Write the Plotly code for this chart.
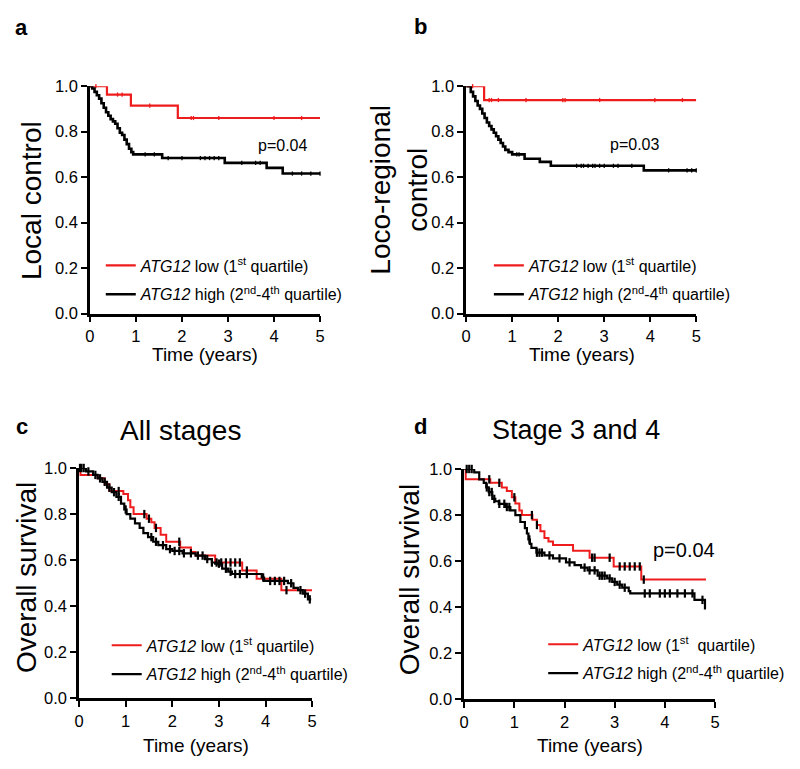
import numpy as np
import plotly.graph_objects as go

W, H = 800, 769

# ---------------- data (Kaplan-Meier step points, censor times) ----------------
# Panel a : Local control
a_low_t = [0, 0.37, 0.89, 1.91]
a_low_s = [1.0, 0.963, 0.914, 0.86]
a_low_end = 5.0
a_low_cens = [0.13, 0.6, 0.7, 1.3, 2.2, 2.25, 2.8, 4.0, 4.6]
a_high_t = [0, 0.05, 0.1, 0.15, 0.2, 0.25, 0.3, 0.35, 0.4, 0.45, 0.5, 0.55, 0.6, 0.65,
            0.7, 0.75, 0.8, 0.85, 0.9, 0.94, 1.57, 2.93, 3.84, 4.19]
a_high_s = [1.0, 0.99, 0.975, 0.96, 0.945, 0.925, 0.905, 0.885, 0.87, 0.855, 0.845, 0.835,
            0.815, 0.795, 0.785, 0.765, 0.745, 0.725, 0.71, 0.70, 0.684, 0.663, 0.641, 0.616]
a_high_end = 5.0
a_high_cens = [1.2, 1.4, 1.7, 2.0, 2.4, 2.5, 2.6, 2.7, 2.8, 3.3, 3.6, 3.7, 4.4, 4.6, 4.8, 5.0]

# Panel b : Loco-regional control
b_low_t = [0, 0.39]
b_low_s = [1.0, 0.939]
b_low_end = 5.0
b_low_cens = [0.14, 0.5, 0.55, 0.7, 1.3, 2.1, 2.15, 2.9, 4.1, 4.7]
b_high_t = [0, 0.1, 0.15, 0.2, 0.25, 0.3, 0.35, 0.4, 0.45, 0.5, 0.55, 0.6, 0.65, 0.7, 0.75,
            0.8, 0.85, 0.92, 1.0, 1.27, 1.6, 1.84, 3.86]
b_high_s = [1.0, 0.975, 0.955, 0.935, 0.915, 0.9, 0.88, 0.86, 0.84, 0.825, 0.81, 0.795, 0.78,
            0.765, 0.75, 0.735, 0.72, 0.71, 0.70, 0.681, 0.667, 0.65, 0.63]
b_high_end = 5.0
b_high_cens = [1.1, 1.15, 2.4, 2.5, 2.55, 2.65, 2.75, 2.8, 2.9, 3.0, 3.2, 3.3, 3.6, 4.4, 4.8, 4.9, 5.0]

# Panel c : Overall survival, all stages
c_low_t = [0, 0.03, 0.4, 0.55, 0.65, 0.95, 1.05, 1.1, 1.17, 1.45, 1.55, 1.62, 1.75, 1.87,
           2.17, 2.4, 2.5, 2.92, 3.5, 3.81, 4.34]
c_low_s = [1.0, 0.97, 0.955, 0.93, 0.90, 0.887, 0.86, 0.83, 0.80, 0.78, 0.765, 0.74, 0.71,
           0.68, 0.655, 0.635, 0.62, 0.59, 0.555, 0.52, 0.47]
c_low_end = 5.0
c_low_cens = [0.02, 0.85, 1.4, 1.5, 1.65, 2.15, 2.95, 3.05, 3.15, 3.25, 3.35, 3.45, 3.6, 4.45]
c_high_t = [0, 0.15, 0.3, 0.4, 0.5, 0.6, 0.7, 0.8, 0.9, 0.97, 1.02, 1.1, 1.2, 1.3, 1.38, 1.48,
            1.59, 1.7, 1.87, 2.0, 2.22, 2.5, 2.7, 2.85, 2.92, 3.07, 3.2, 3.28, 3.92, 3.97, 4.48,
            4.6, 4.7, 4.8, 4.91]
c_high_s = [1.0, 0.985, 0.97, 0.955, 0.94, 0.915, 0.895, 0.875, 0.845, 0.82, 0.80, 0.78, 0.76,
            0.74, 0.717, 0.70, 0.68, 0.665, 0.648, 0.64, 0.63, 0.62, 0.605, 0.59, 0.585, 0.563,
            0.55, 0.54, 0.525, 0.51, 0.50, 0.48, 0.47, 0.455, 0.43]
c_high_end = 4.98
c_high_cens = [0.05, 0.1, 0.2, 0.35, 0.45, 0.55, 0.65, 0.75, 0.85, 1.0, 1.55, 1.65, 1.8, 1.95,
               2.05, 2.15, 2.25, 2.4, 2.55, 2.65, 2.75, 2.85, 3.0, 3.15, 3.25, 3.35, 3.45, 3.6,
               3.95, 4.1, 4.2, 4.3, 4.4, 4.55, 4.75, 4.85, 4.95]

# Panel d : Overall survival, stage 3 and 4
d_low_t = [0, 0.03, 0.52, 0.75, 0.85, 0.95, 1.02, 1.1, 1.15, 1.36, 1.45, 1.52, 1.6, 1.68,
           1.77, 2.17, 2.5, 2.98, 3.53]
d_low_s = [1.0, 0.955, 0.94, 0.92, 0.905, 0.877, 0.85, 0.82, 0.80, 0.78, 0.757, 0.73, 0.70,
           0.685, 0.67, 0.645, 0.615, 0.577, 0.52]
d_low_end = 4.82
d_low_cens = [0.5, 0.7, 1.0, 1.35, 1.45, 2.55, 2.6, 2.9, 3.1, 3.2, 3.3, 3.4, 3.5, 3.58]
d_high_t = [0, 0.2, 0.3, 0.39, 0.44, 0.49, 0.56, 0.62, 0.69, 0.82, 0.92, 1.02, 1.12, 1.21,
            1.25, 1.28, 1.31, 1.34, 1.44, 1.6, 1.77, 2.03, 2.2, 2.33, 2.46, 2.66, 2.85, 2.95,
            3.05, 3.15, 3.28, 3.31, 4.59, 4.8]
d_high_s = [1.0, 0.985, 0.955, 0.94, 0.92, 0.9, 0.87, 0.86, 0.849, 0.835, 0.82, 0.80, 0.77,
            0.743, 0.72, 0.694, 0.675, 0.658, 0.637, 0.625, 0.612, 0.595, 0.583, 0.572, 0.56,
            0.537, 0.525, 0.51, 0.498, 0.485, 0.47, 0.46, 0.432, 0.395]
d_high_end = 4.82
d_high_cens = [0.05, 0.1, 0.15, 0.45, 0.5, 0.55, 0.6, 0.7, 0.8, 0.85, 0.9, 1.3, 1.45, 1.5,
               1.55, 1.7, 1.9, 2.1, 2.4, 2.5, 2.6, 2.7, 2.75, 2.8, 2.9, 3.0, 3.1, 3.2, 3.6,
               3.7, 3.9, 4.0, 4.1, 4.25, 4.4, 4.55, 4.75]

y_ticks = [0.0, 0.2, 0.4, 0.6, 0.8, 1.0]
x_ticks = [0, 1, 2, 3, 4, 5]

low_label = "<i>ATG12</i> low (1<sup>st</sup> quartile)"
low_label_d = "<i>ATG12</i> low (1<sup>st</sup>\u00a0 quartile)"
high_label = "<i>ATG12</i> high (2<sup>nd</sup>-4<sup>th</sup> quartile)"

RED = "#ee1c1c"
BLACK = "#000000"
FONT = "Arial, Liberation Sans, sans-serif"

# ---------------- layout geometry (pixels) ----------------
def px_x(p):
    return p / W

def px_y(p):
    return 1 - p / H

panels = {
    "a": dict(x0=86, x1=319, y0=79, y1=312),
    "b": dict(x0=467, x1=700, y0=79, y1=312),
    "c": dict(x0=75, x1=311, y0=470, y1=706),
    "d": dict(x0=465, x1=719, y0=471, y1=707),
}

fig = go.Figure()


def step_at(ts, ss, tc):
    idx = np.searchsorted(np.array(ts), np.array(tc), side="right") - 1
    return list(np.array(ss)[idx])


def add_km(k, ts, ss, end, cens, color, mcolor, name, legend, lw, msize, mlw):
    xa = "x" if k == 1 else f"x{k}"
    ya = "y" if k == 1 else f"y{k}"
    fig.add_trace(go.Scatter(
        x=list(ts) + [end], y=list(ss) + [ss[-1]], mode="lines",
        line=dict(color=color, width=lw, shape="hv"), name=name,
        legend=legend, xaxis=xa, yaxis=ya, cliponaxis=False, legendgroup=name + legend))
    fig.add_trace(go.Scatter(
        x=cens, y=step_at(ts, ss, cens), mode="markers",
        marker=dict(symbol="line-ns", size=msize, line=dict(color=mcolor, width=mlw)),
        showlegend=False, xaxis=xa, yaxis=ya, cliponaxis=False, hoverinfo="skip"))


add_km(1, a_low_t, a_low_s, a_low_end, a_low_cens, RED, RED, low_label, "legend", 2.2, 3, 1.3)
add_km(1, a_high_t, a_high_s, a_high_end, a_high_cens, BLACK, BLACK, high_label, "legend", 2.6, 3, 1.3)
add_km(2, b_low_t, b_low_s, b_low_end, b_low_cens, RED, RED, low_label, "legend2", 2.2, 3, 1.3)
add_km(2, b_high_t, b_high_s, b_high_end, b_high_cens, BLACK, BLACK, high_label, "legend2", 2.6, 3, 1.3)
add_km(3, c_low_t, c_low_s, c_low_end, c_low_cens, RED, BLACK, low_label, "legend3", 2.0, 6, 2.2)
add_km(3, c_high_t, c_high_s, c_high_end, c_high_cens, BLACK, BLACK, high_label, "legend3", 2.2, 6, 2.2)
add_km(4, d_low_t, d_low_s, d_low_end, d_low_cens, RED, BLACK, low_label_d, "legend4", 2.0, 6, 2.2)
add_km(4, d_high_t, d_high_s, d_high_end, d_high_cens, BLACK, BLACK, high_label, "legend4", 2.2, 6, 2.2)

axis_common = dict(
    showline=True, linecolor="black", linewidth=2.5, mirror=False,
    ticks="outside", ticklen=6, tickwidth=2, tickcolor="black",
    showgrid=False, zeroline=False, tickfont=dict(size=16.5, color="black", family=FONT),
    fixedrange=True,
)

layout_axes = {}
for i, k in enumerate(["a", "b", "c", "d"], start=1):
    p = panels[k]
    xname = "xaxis" if i == 1 else f"xaxis{i}"
    yname = "yaxis" if i == 1 else f"yaxis{i}"
    xa = "x" if i == 1 else f"x{i}"
    ya = "y" if i == 1 else f"y{i}"
    layout_axes[xname] = dict(axis_common, domain=[px_x(p["x0"]), px_x(p["x1"])],
                              range=[0, 5], tickvals=x_ticks, anchor=ya)
    layout_axes[yname] = dict(axis_common, domain=[px_y(p["y1"]), px_y(p["y0"])],
                              range=[0, 1.0], tickvals=y_ticks, tickformat=".1f", anchor=xa)

fig.update_layout(**layout_axes)

legend_common = dict(
    font=dict(size=16, color="black", family=FONT), bgcolor="rgba(0,0,0,0)",
    xanchor="left", yanchor="middle", itemwidth=30, tracegroupgap=5,
    traceorder="grouped", itemclick=False, itemdoubleclick=False,
)
fig.update_layout(
    legend=dict(legend_common, x=px_x(97), y=px_y(277.5)),
    legend2=dict(legend_common, x=px_x(490), y=px_y(277.5)),
    legend3=dict(legend_common, x=px_x(103), y=px_y(666.5)),
    legend4=dict(legend_common, x=px_x(545), y=px_y(665.5)),
)

annotations = []


def ann(text, x, y, size, bold=False, angle=0):
    annotations.append(dict(
        text=f"<b>{text}</b>" if bold else text, x=px_x(x), y=px_y(y),
        xref="paper", yref="paper", showarrow=False, xanchor="center", yanchor="middle",
        textangle=angle, font=dict(size=size, color="black", family=FONT)))


# panel letters
ann("a", 17, 19, 22, bold=True)
ann("b", 421, 18, 22, bold=True)
ann("c", 17, 428, 22, bold=True)
ann("d", 421, 427, 22, bold=True)
# titles
ann("All stages", 178, 432, 28)
ann("Stage 3 and 4", 578, 431, 27)
# y-axis titles
ann("Local control", 27, 196, 28, angle=-90)
ann("Loco-regional<br>control", 399, 185, 28, angle=-90)
ann("Overall survival", 22, 582, 28, angle=-90)
ann("Overall survival", 409, 584, 28, angle=-90)
# x-axis titles
ann("Time (years)", 203, 354, 19)
ann("Time (years)", 584, 354, 19)
ann("Time (years)", 193, 754, 19)
ann("Time (years)", 592, 754, 19)
# p-values
ann("p=0.04", 281, 140, 16)
ann("p=0.03", 637, 139, 16)
ann("p=0.04", 688, 554, 20)

fig.update_layout(
    width=W, height=H, margin=dict(l=0, r=0, t=0, b=0),
    paper_bgcolor="white", plot_bgcolor="white",
    font=dict(family=FONT, color="black"),
    annotations=annotations, hovermode=False,
)

fig.write_html("out.html", config={"displayModeBar": False},
               post_script="document.body.style.margin='0';document.body.style.overflow='hidden';")
